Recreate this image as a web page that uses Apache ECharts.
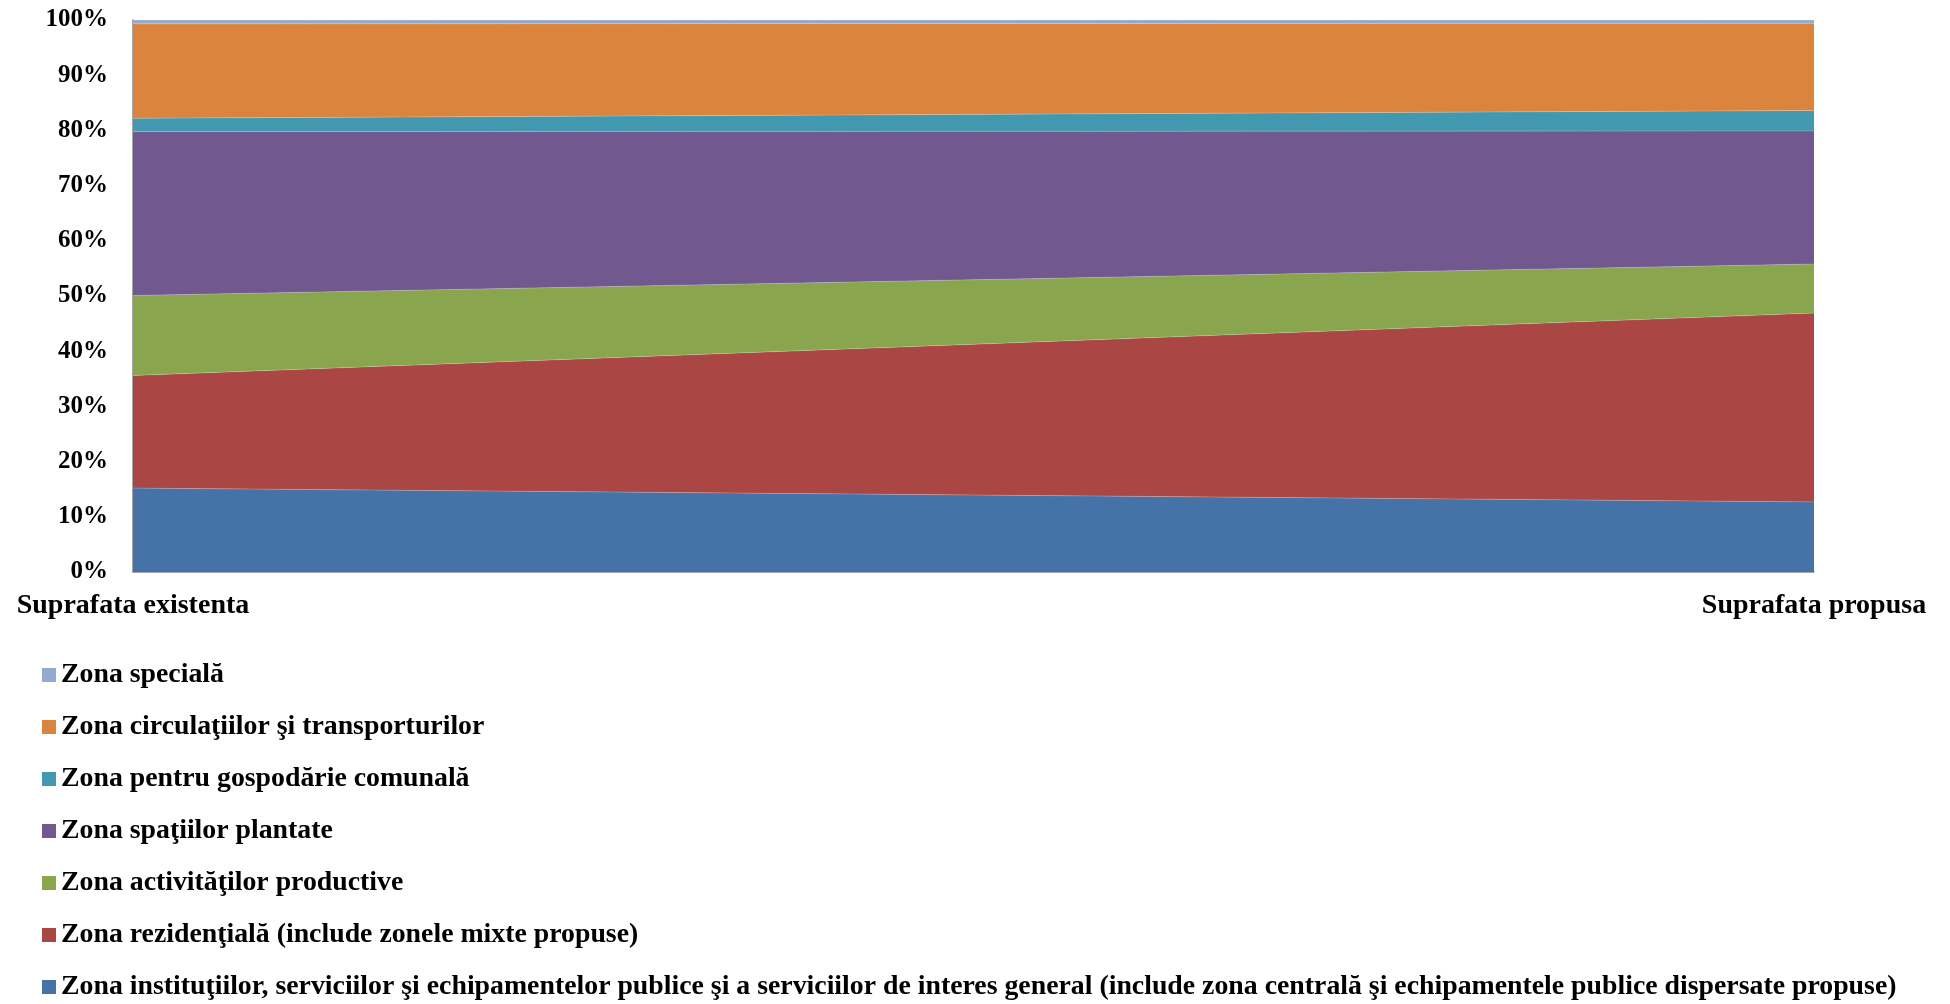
<!DOCTYPE html>
<html>
<head>
<meta charset="utf-8">
<script src="https://cdn.jsdelivr.net/npm/echarts@6/dist/echarts.min.js"></script>
<style>
  html, body { margin: 0; padding: 0; background: #fff; }
  #container { width: 1950px; height: 1004px; }
</style>
</head>
<body>
<div id="container"></div>
<script>
// categories on x
var categories = ['Suprafata existenta', 'Suprafata propusa'];

// series names, bottom of the stack first
var seriesNames = [
  'Zona instituţiilor, serviciilor şi echipamentelor publice şi a serviciilor de interes general (include zona centrală şi echipamentele publice dispersate propuse)',
  'Zona rezidenţială (include zonele mixte propuse)',
  'Zona activităţilor productive',
  'Zona spaţiilor plantate',
  'Zona pentru gospodărie comunală',
  'Zona circulaţiilor şi transporturilor',
  'Zona specială'
];

// shares in percent, [existenta, propusa]
var institutii = [15.2, 12.7];
var rezidentiala = [20.4, 34.2];
var productive = [14.5, 8.9];
var plantate = [29.7, 24.1];
var gospodarie = [2.4, 3.7];
var circulatii = [17.1, 15.8];
var speciala = [0.7, 0.6];

var yTicks = [0, 10, 20, 30, 40, 50, 60, 70, 80, 90, 100];

var seriesData = [institutii, rezidentiala, productive, plantate, gospodarie, circulatii, speciala];
var colors = ['#4572A7', '#AA4643', '#89A54E', '#71588F', '#4198AF', '#DB843D', '#93A9CF'];

var fontFam = '"Liberation Serif", serif';

var dom = document.getElementById('container');
var myChart = echarts.init(dom);

var series = [];
for (var i = 0; i < seriesNames.length; i++) {
  series.push({
    name: seriesNames[i],
    type: 'line',
    stack: 'total',
    data: seriesData[i],
    symbol: 'none',
    lineStyle: { width: 0.6, color: 'rgba(255,255,255,0.35)' },
    areaStyle: { color: colors[i], opacity: 1 },
    itemStyle: { color: colors[i] }
  });
}

var option = {
  animation: false,
  backgroundColor: '#fff',
  color: colors,
  grid: {
    left: 133,
    right: 136,
    top: 20,
    bottom: 432
  },
  xAxis: {
    type: 'category',
    data: categories,
    boundaryGap: false,
    axisLine: { lineStyle: { color: '#888', width: 1.5 } },
    axisTick: { show: false },
    axisLabel: {
      margin: 20,
      color: '#000',
      fontFamily: fontFam,
      fontWeight: 'bold',
      fontSize: 28
    },
    splitLine: { show: false }
  },
  yAxis: {
    type: 'value',
    min: yTicks[0],
    max: yTicks[yTicks.length - 1],
    interval: 10,
    axisLine: { show: true, lineStyle: { color: '#888', width: 1.5 } },
    axisTick: { show: false },
    splitLine: { show: false },
    axisLabel: {
      margin: 25,
      color: '#000',
      fontFamily: fontFam,
      fontWeight: 'bold',
      fontSize: 25,
      formatter: '{value}%'
    }
  },
  legend: {
    orient: 'vertical',
    left: 37,
    top: 656,
    height: 400,
    icon: 'rect',
    itemWidth: 14,
    itemHeight: 14,
    itemGap: 24,
    data: seriesNames.slice().reverse(),
    textStyle: {
      color: '#000',
      fontFamily: fontFam,
      fontWeight: 'bold',
      fontSize: 27.8,
      lineHeight: 28,
      padding: [0, 0, 0, 0]
    }
  },
  series: series
};

myChart.setOption(option);
</script>
</body>
</html>
